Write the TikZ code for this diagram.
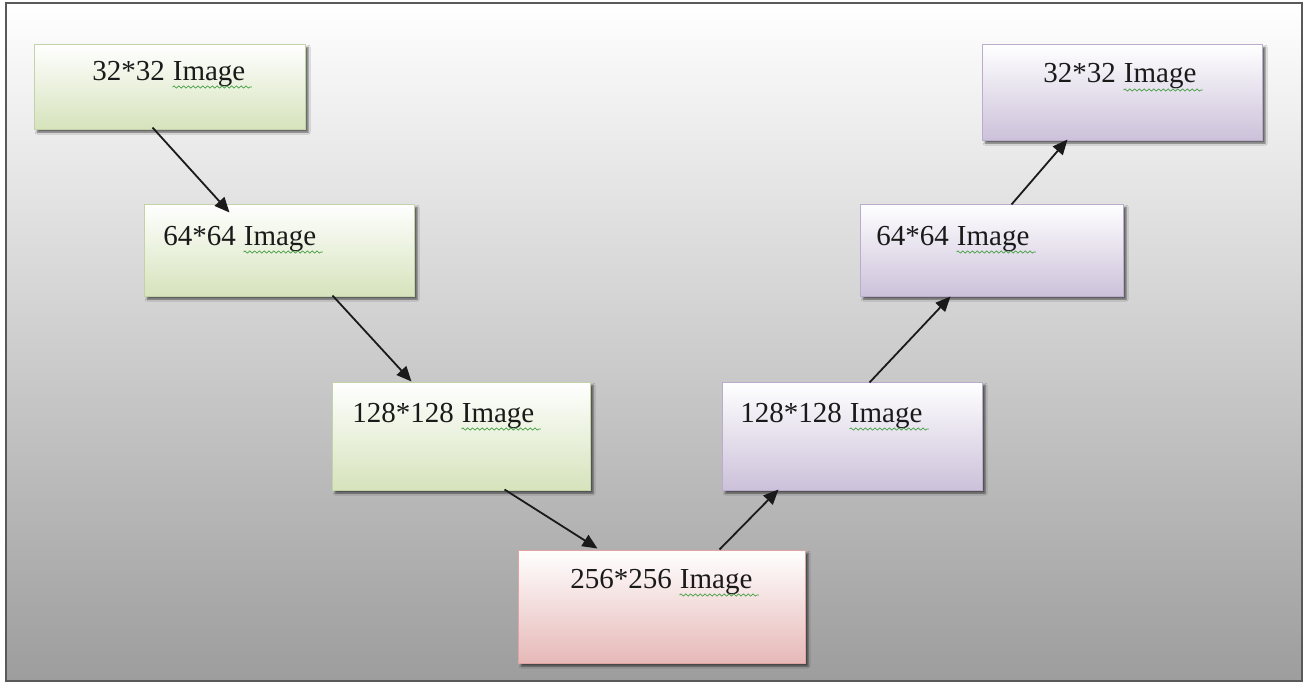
\documentclass[tikz,border=0pt]{standalone}
\usepackage{fontspec}
\setmainfont{Liberation Serif}
\usetikzlibrary{arrows.meta,fit,calc,shadows.blur,decorations.pathmorphing}

\definecolor{bgbottom}{RGB}{157,157,157}
\definecolor{greenfill}{RGB}{214,227,188}
\definecolor{greenedge}{RGB}{196,210,170}
\definecolor{purplefill}{RGB}{204,193,218}
\definecolor{purpleedge}{RGB}{186,172,205}
\definecolor{pinkfill}{RGB}{230,185,184}
\definecolor{pinkedge}{RGB}{222,165,163}
\definecolor{inkdark}{RGB}{26,26,26}
\definecolor{spellgreen}{RGB}{70,160,70}

\tikzset{
  stagebox/.style={inner sep=0pt, draw, line width=0.5pt,
    blur shadow={shadow xshift=1.6pt, shadow yshift=-1.6pt,
      shadow blur radius=1pt, shadow opacity=60}},
  greenbox/.style={stagebox, draw=greenedge, top color=white, bottom color=greenfill},
  purplebox/.style={stagebox, draw=purpleedge, top color=white, bottom color=purplefill},
  pinkbox/.style={stagebox, draw=pinkedge, top color=white, bottom color=pinkfill},
  sizetext/.style={inner sep=0pt, anchor=base west, text=inkdark,
    font=\fontsize{14.5pt}{17pt}\selectfont},
  flow/.style={line width=0.9pt, draw=inkdark,
    -{Triangle[length=7.5pt, width=6.5pt]}},
  spellmark/.style={draw=spellgreen, line width=0.35pt,
    decorate, decoration={snake, amplitude=0.55pt, segment length=2.4pt}}
}

% a size label: "<n>*<n>" followed by a separate "Image" word with a wavy mark beneath it
\newcommand\sizelabel[3]{%
  \node[sizetext] (#1n) at (#2) {#3};
  \node[sizetext] (#1w) at ($(#1n.base east)+(7.2,0)$) {Image};
  \draw[spellmark] ($(#1w.base west)+(0,7)$) -- ($(#1w.base east)+(6,7)$);
}

\begin{document}
\begin{tikzpicture}[x=0.5pt, y=-0.5pt]
  \useasboundingbox (0,0) rectangle (1307,685);
  \fill[white] (0,0) rectangle (1307,685);

  % framed page with a vertical grey gradient
  \shade[top color=white, bottom color=bgbottom, draw=gray!70!black, line width=0.6pt]
    (6,3) rectangle (1302,681);

  % downsampling stages (green)
  \node[greenbox, fit={(34,44)(305,129)}] (b1) {};
  \node[greenbox, fit={(144,204)(414,296)}] (b2) {};
  \node[greenbox, fit={(332,382)(590,490)}] (b3) {};
  % bottom stage (pink)
  \node[pinkbox, fit={(518,550)(805,663)}] (b4) {};
  % upsampling stages (purple)
  \node[purplebox, fit={(722,382)(982,490)}] (p3) {};
  \node[purplebox, fit={(860,204)(1123,296)}] (p2) {};
  \node[purplebox, fit={(982,44)(1262,140)}] (p1) {};

  % labels
  \sizelabel{l1}{92,80}{32*32}
  \sizelabel{l2}{163,245}{64*64}
  \sizelabel{l3}{352,422}{128*128}
  \sizelabel{l4}{570,588}{256*256}
  \sizelabel{l5}{740,422}{128*128}
  \sizelabel{l6}{876,245}{64*64}
  \sizelabel{l7}{1043,83}{32*32}

  % connectors
  \draw[flow] ($(b1.south west)+(119,-2)$) -- ($(b2.north west)+(86,9)$);
  \draw[flow] ($(b2.south west)+(189,-1)$) -- ($(b3.north west)+(80,0)$);
  \draw[flow] ($(b3.south west)+(173,-1)$) -- ($(b4.north west)+(80,-1)$);
  \draw[flow] ($(b4.north west)+(202,0)$) -- ($(p3.south west)+(57,-1)$);
  \draw[flow] ($(p3.north west)+(148,1)$) -- ($(p2.south west)+(91,0)$);
  \draw[flow] ($(p2.north west)+(152,1)$) -- ($(p1.south west)+(86,-1)$);
\end{tikzpicture}
\end{document}
